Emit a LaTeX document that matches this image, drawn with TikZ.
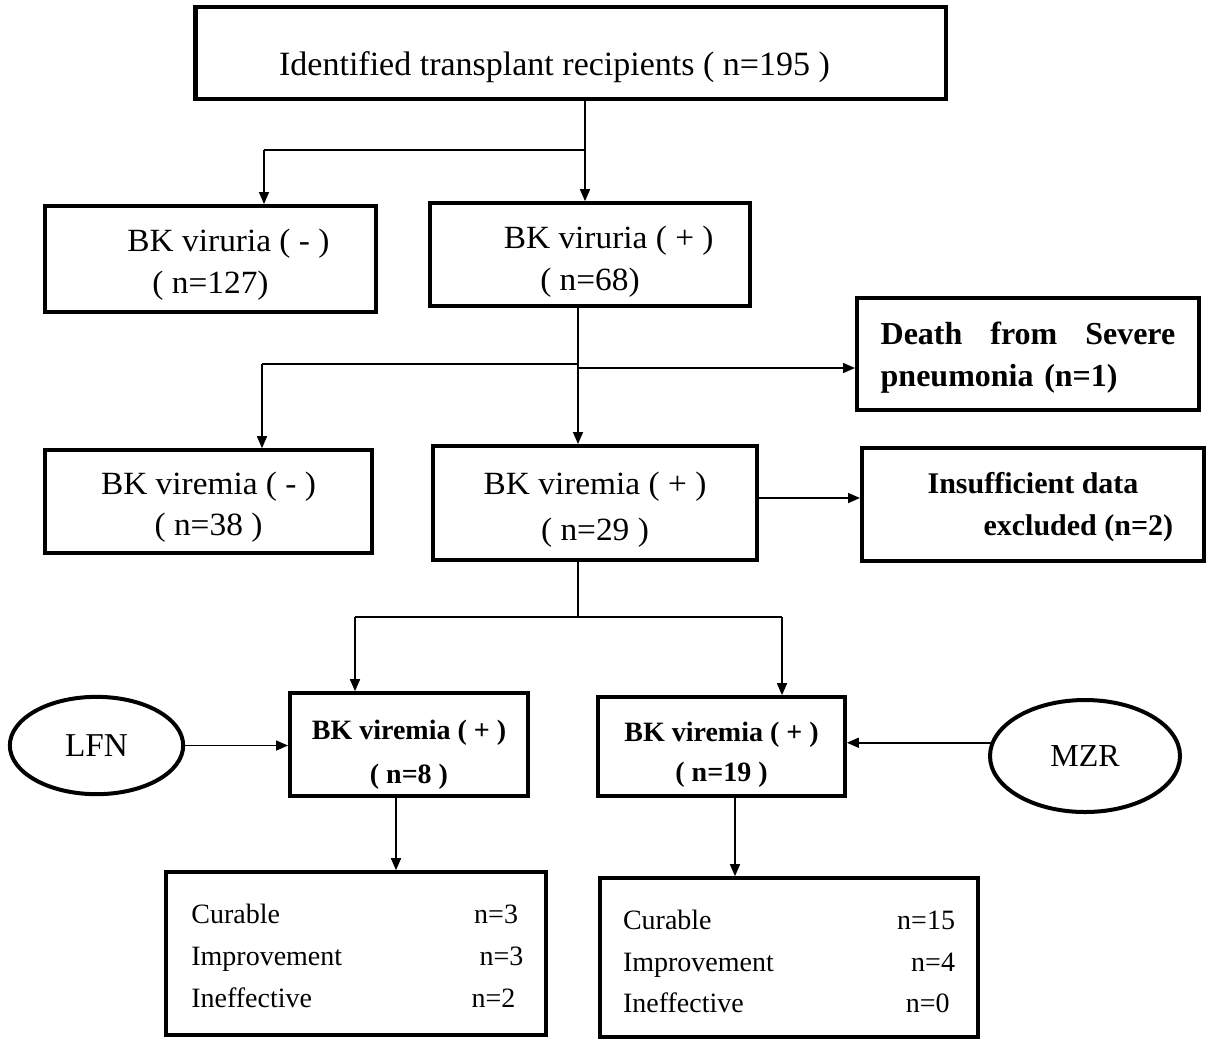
\documentclass[tikz,border=0pt]{standalone}
\usepackage{fontspec}
\newfontfamily\tnr{Liberation Serif}
\newfontfamily\tnrw[FakeStretch=1.03]{Liberation Serif}
\usetikzlibrary{arrows.meta,shapes.geometric}
\newcommand\topstrut[1]{\rule{0pt}{#1}}
\begin{document}
\begin{tikzpicture}[x=0.75pt,y=-0.75pt,
  box/.style={draw, line width=3pt, inner sep=0pt, align=center, font=\tnrw\fontsize{24.3}{32}\selectfont},
  bbox/.style={box, font=\tnr\bfseries\fontsize{24}{32}\selectfont},
  oval/.style={draw, ellipse, line width=3pt, inner sep=0pt, font=\tnr\fontsize{25}{30}\selectfont},
  rbox/.style={draw, line width=3pt, inner sep=0pt, align=left, font=\tnr\fontsize{21}{31.5}\selectfont},
  conn/.style={line width=1.2pt},
  arr/.style={conn, -{Triangle[length=9pt,width=7.5pt]}}
]
\useasboundingbox (0,0) rectangle (1216,1040);

% boxes
\node[box, line width=3.5pt, font=\tnr\fontsize{25.5}{32}\selectfont, minimum width=563pt, minimum height=69pt, text height=34pt, text depth=0pt] (top) at (570.5,53) {Identified transplant recipients ( n=195 )\hspace*{24pt}};
\node[box, minimum width=248pt, minimum height=79.5pt] (vn) at (210.5,259) {\topstrut{25.3pt}\hspace*{27pt}BK viruria ( - )\\( n=127)};
\node[box, minimum width=240pt, minimum height=77pt] (vp) at (590,254.5) {\topstrut{27.5pt}\hspace*{28pt}BK viruria ( + )\\( n=68)};
\node[bbox, minimum width=256.5pt, minimum height=84pt, text width=221pt, align=left] (death) at (1028,354) {\topstrut{22.3pt}Death\hfill from\hfill Severe\\pneumonia (n=1)};
\node[box, font=\tnrw\fontsize{24.3}{31}\selectfont, minimum width=245pt, minimum height=77pt] (mn) at (208.5,501.5) {\topstrut{25.1pt}BK viremia ( - )\\( n=38 )};
\node[box, font=\tnrw\fontsize{24.3}{34.5}\selectfont, minimum width=243pt, minimum height=85.5pt] (mp) at (595,503) {\topstrut{26.3pt}BK viremia ( + )\\( n=29 )};
\node[bbox, font=\tnr\bfseries\fontsize{22.5}{32}\selectfont, minimum width=256.5pt, minimum height=85pt] (insuf) at (1033,504.5) {\topstrut{19.8pt}Insufficient data\\\hspace*{68pt}excluded (n=2)};
\node[box, font=\tnr\bfseries\fontsize{21}{33}\selectfont, minimum width=178.5pt, minimum height=77pt] (b8) at (409,744.5) {\topstrut{29.4pt}BK viremia ( + )\\( n=8 )};
\node[box, font=\tnr\bfseries\fontsize{21}{30}\selectfont, minimum width=185pt, minimum height=74pt] (b19) at (721.5,746.5) {\topstrut{26.4pt}BK viremia ( + )\\( n=19 )};
\node[oval, minimum width=130pt, minimum height=73pt] (lfn) at (96.5,745.5) {LFN};
\node[oval, font=\tnr\fontsize{24}{30}\selectfont, minimum width=142.5pt, minimum height=84pt] (mzr) at (1085,756) {MZR};
\node[rbox, minimum width=285pt, minimum height=122pt] (r8) at (356,953.5)
  {\makebox[247pt]{\topstrut{18.8pt}Curable\hfill n=3\hspace*{2pt}}\\
   \makebox[247pt]{Improvement\hfill n=3\hspace*{-2pt}}\\
   \makebox[247pt]{Ineffective\hfill n=2\hspace*{4pt}}};
\node[rbox, font=\tnr\fontsize{21}{31.1}\selectfont, minimum width=283.5pt, minimum height=119pt] (r19) at (789,957.5)
  {\makebox[249pt]{\topstrut{21pt}Curable\hfill n=15}\\
   \makebox[249pt]{Improvement\hfill n=4}\\
   \makebox[249pt]{Ineffective\hfill n=0\hspace*{4pt}}};

% connectors
\coordinate (s1) at (585,150);
\coordinate (s1l) at (264,150);
\draw[arr] (top.south -| s1) -- (vp.north -| s1);
\draw[conn] (s1) -- (s1l);
\draw[arr] (s1l) -- (vn.north -| s1l);

\coordinate (s2) at (578,364);
\coordinate (s2l) at (262,364);
\coordinate (s2r) at (578,368);
\draw[arr] (vp.south -| s2) -- (mp.north -| s2);
\draw[conn] (s2) -- (s2l);
\draw[arr] (s2l) -- (mn.north -| s2l);
\draw[arr] (s2r) -- (s2r -| death.west);

\coordinate (c1) at (0,498);
\draw[arr] (mp.east |- c1) -- (insuf.west |- c1);

\coordinate (s3) at (578,617);
\coordinate (s3l) at (355,617);
\coordinate (s3r) at (782,617);
\draw[conn] (mp.south -| s3) -- (s3);
\draw[conn] (s3l) -- (s3r);
\draw[arr] (s3l) -- (b8.north -| s3l);
\draw[arr] (s3r) -- (b19.north -| s3r);

\draw[arr] (lfn.east) -- (lfn.east -| b8.west);
\draw[arr] (mzr.172) -- (mzr.172 -| b19.east);

\coordinate (x8) at (396,0);
\coordinate (x19) at (735,0);
\draw[arr] (b8.south -| x8) -- (r8.north -| x8);
\draw[arr] (b19.south -| x19) -- (r19.north -| x19);
\end{tikzpicture}
\end{document}
